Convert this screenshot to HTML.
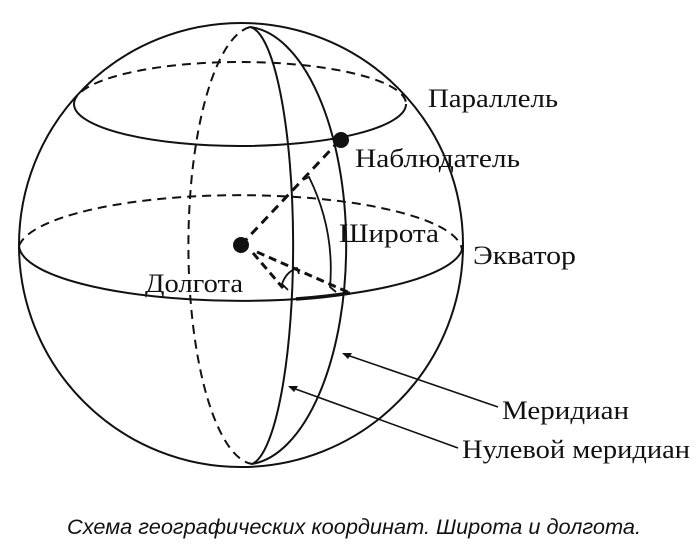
<!DOCTYPE html>
<html><head><meta charset="utf-8"><style>
body{margin:0;background:#fff;width:700px;height:560px;overflow:hidden}
svg{display:block}
.t{font-family:"Liberation Serif",serif;font-size:26px;fill:#111}
</style></head><body>
<svg width="700" height="560" viewBox="0 0 700 560">
<g fill="none" stroke="#111" stroke-width="2">
<circle cx="241" cy="245" r="222"/>
<path d="M19,246 A222,56 0 0 0 462,250"/>
<path d="M19,246 A222,56 0 0 1 462,250" stroke-dasharray="9,6"/>
<path d="M74,104 A166,42 0 0 0 406,104"/>
<path d="M74,104 A166,42 0 0 1 406,104" stroke-dasharray="9,6"/>
<path d="M250,27 A45,219 0 0 1 252,464"/>
<path d="M250,27 A102,219 0 0 1 252,464"/>
<path d="M250,27 A67,219 0 0 0 252,464" stroke-dasharray="9,6"/>
<path d="M241,245 L340,140" stroke-width="3" stroke-dasharray="9,6"/>
<path d="M253,253 L283,288" stroke-width="3" stroke-dasharray="8,5"/>
<path d="M257,252 L350,293" stroke-width="3" stroke-dasharray="8,5"/>
<path d="M303,180 L309,177 Q335,230 330,287 L336,292" stroke-width="1.8"/>
<path d="M288,290 L282,284 Q286,272 297,268 L299,274" stroke-width="1.8"/>
<path d="M296,299 Q325,297 350,293" stroke-width="3.5"/>
<path d="M344,354 L498,407" stroke-width="1.6"/>
<path d="M290,387 L458,448" stroke-width="1.6"/>
</g>
<path d="M342,353 l10,0 l-4,6 z" fill="#111"/>
<path d="M288,386 l10,0 l-4,6 z" fill="#111"/>
<circle cx="241" cy="245" r="8" fill="#111"/>
<circle cx="341" cy="140" r="8" fill="#111"/>
<text class="t" x="428" y="107" textLength="130" lengthAdjust="spacingAndGlyphs">Параллель</text>
<text class="t" x="355" y="167" textLength="165" lengthAdjust="spacingAndGlyphs">Наблюдатель</text>
<text class="t" x="339" y="242" textLength="100" lengthAdjust="spacingAndGlyphs">Широта</text>
<text class="t" x="473" y="264" textLength="103" lengthAdjust="spacingAndGlyphs">Экватор</text>
<text class="t" x="145" y="292" textLength="98" lengthAdjust="spacingAndGlyphs">Долгота</text>
<text class="t" x="502" y="419" textLength="127" lengthAdjust="spacingAndGlyphs">Меридиан</text>
<text class="t" x="462" y="458" textLength="228" lengthAdjust="spacingAndGlyphs">Нулевой меридиан</text>
<text x="67" y="534" textLength="574" lengthAdjust="spacingAndGlyphs" font-family="Liberation Sans, sans-serif" font-style="italic" font-size="21" fill="#111">Схема географических координат. Широта и долгота.</text>
</svg>
</body></html>
